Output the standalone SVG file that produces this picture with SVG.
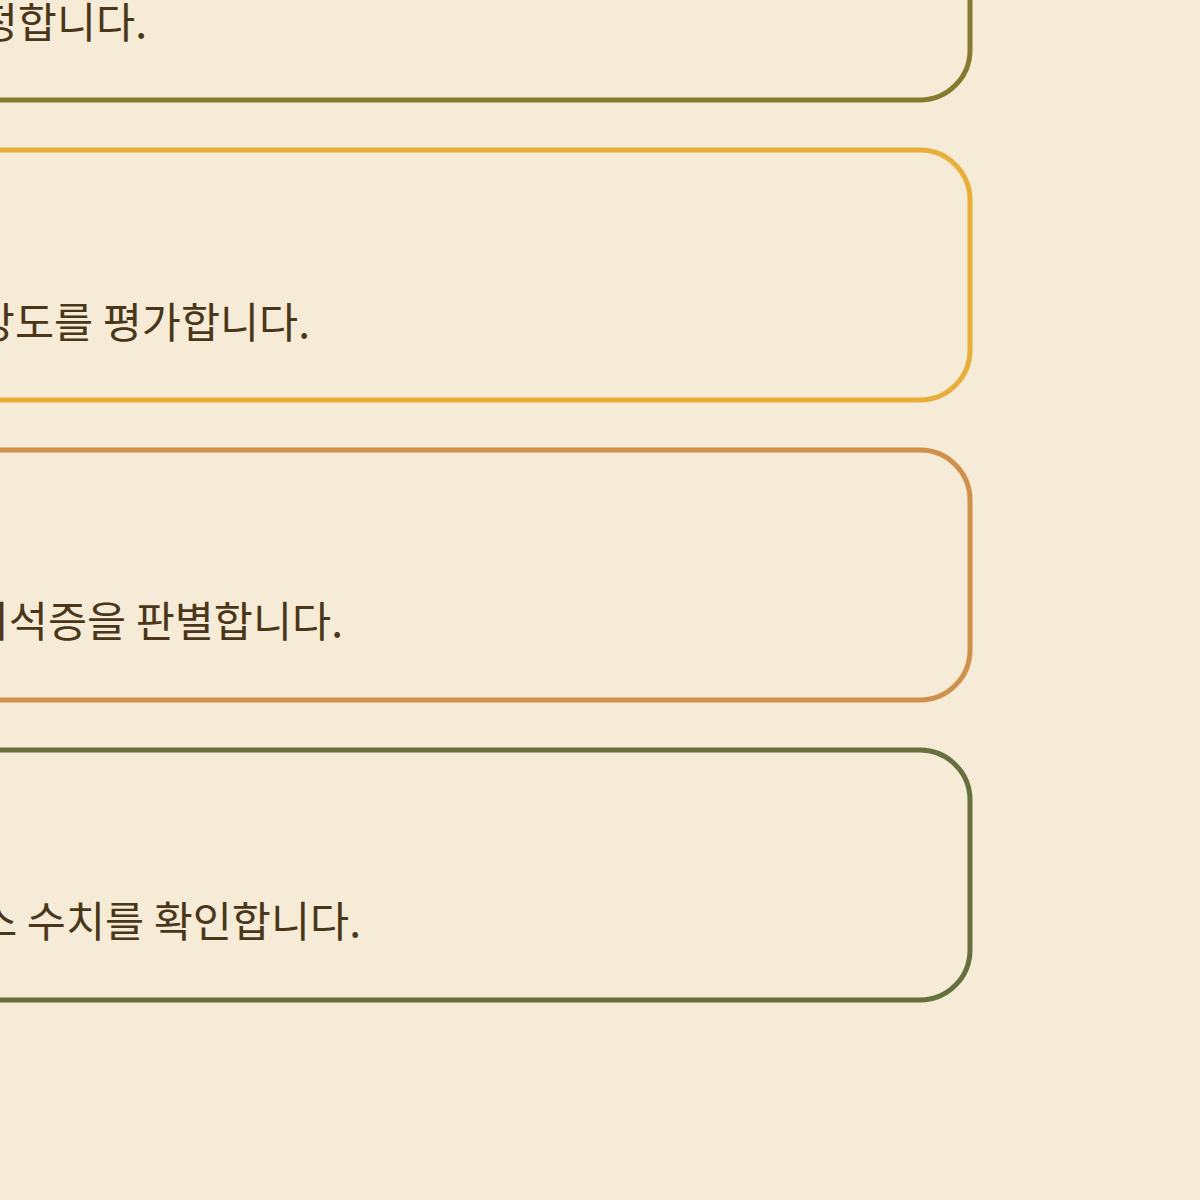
<svg xmlns="http://www.w3.org/2000/svg" width="1200" height="1200" viewBox="0 0 1200 1200">
<style>
.box{fill:none;stroke-width:5}
.t{font-family:"Noto Sans CJK KR","Noto Sans",sans-serif;font-size:42.5px;fill:#4a3618;text-anchor:end}
</style>
<rect width="1200" height="1200" fill="#f6ebd6"/>
<g id="node1">
<rect class="box" x="-400" y="-150" width="1370" height="250" rx="50" stroke="#857a2f"/>
<text class="t" x="147" y="38">측정합니다.</text>
</g>
<g id="node2">
<rect class="box" x="-400" y="150" width="1370" height="250" rx="50" stroke="#e8ae3a"/>
<text class="t" x="310" y="338">강도를 평가합니다.</text>
</g>
<g id="node3">
<rect class="box" x="-400" y="450" width="1370" height="250" rx="50" stroke="#cf904b"/>
<text class="t" x="343" y="637">치석증을 판별합니다.</text>
</g>
<g id="node4">
<rect class="box" x="-400" y="750" width="1370" height="250" rx="50" stroke="#66703f"/>
<text class="t" x="361" y="937">스 수치를 확인합니다.</text>
</g>
<g id="connectors"></g>
</svg>
